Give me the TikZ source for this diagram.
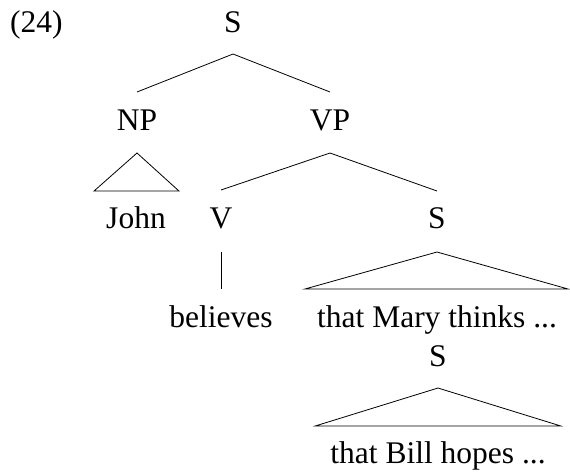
\documentclass[tikz,border=0pt]{standalone}
\usepackage{fontspec}
\setmainfont{Liberation Serif}
\begin{document}
\begin{tikzpicture}[x=1pt,y=-1pt,
  lbl/.style={inner sep=0pt,anchor=base,font=\fontsize{31.5pt}{37pt}\selectfont},
  branch/.style={line width=0.8pt,line join=miter}]
\useasboundingbox (0,0) rectangle (570,472);

% example number
\node[lbl,anchor=base west] (num) at (10,32) {(24)};

% tree labels
\node[lbl] (s0) at (233,32) {S};
\node[lbl] (np) at (137,130) {NP};
\node[lbl] (vp) at (330,130) {VP};
\node[lbl] (john) at (136,228) {John};
\node[lbl] (v) at (221,228) {V};
\node[lbl] (s1) at (437,228) {S};
\node[lbl] (believes) at (221,327) {believes};
\node[lbl] (mary) at (437,327) {that Mary thinks ...};
\node[lbl] (s2) at (438,366) {S};
\node[lbl] (bill) at (438,463) {that Bill hopes ...};

% branches
\draw[branch] ([yshift=38pt]np.base) -- ([yshift=-22pt]s0.base) -- ([yshift=38pt]vp.base);
\draw[branch] ([yshift=38pt]v.base) -- ([yshift=-23pt]vp.base) -- ([yshift=37pt]s1.base);
\draw[branch] ([yshift=-24pt]v.base) -- ([yshift=38pt]believes.base);

% triangles over unanalysed constituents
\draw[branch] ([yshift=-23pt]np.base) -- ([shift={(-12pt,37pt)}]john.base west)
  -- ([shift={(13pt,37pt)}]john.base east) -- cycle;
\draw[branch] ([yshift=-24pt]s1.base) -- ([shift={(-12pt,38pt)}]mary.base west)
  -- ([shift={(11pt,38pt)}]mary.base east) -- cycle;
\draw[branch] ([yshift=-22pt]s2.base) -- ([shift={(-15pt,37pt)}]bill.base west)
  -- ([shift={(15pt,37pt)}]bill.base east) -- cycle;
\end{tikzpicture}
\end{document}
